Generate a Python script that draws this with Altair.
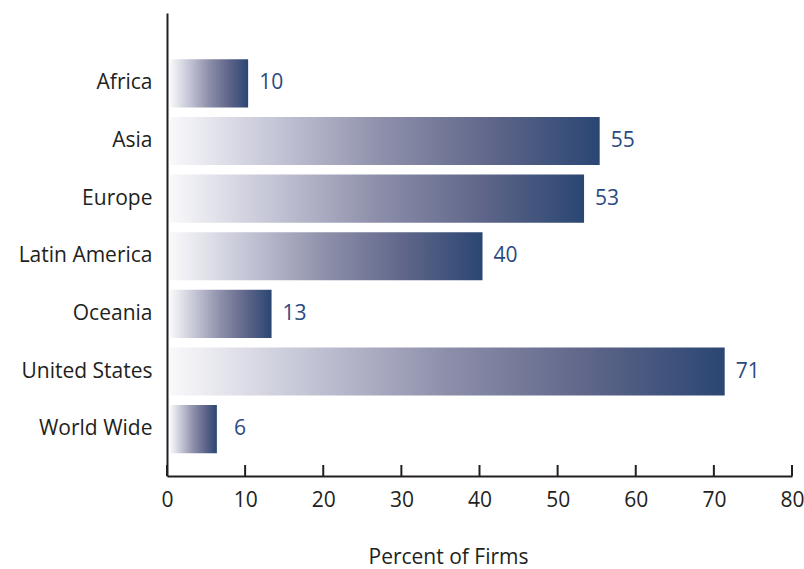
import altair as alt
import pandas as pd

# Share of firms by region
regions = ["Africa", "Asia", "Europe", "Latin America", "Oceania", "United States", "World Wide"]
percents = [10, 55, 53, 40, 13, 71, 6]
tick_values = [0, 10, 20, 30, 40, 50, 60, 70, 80]

bars_df = pd.DataFrame({"region": regions, "percent": percents})
ticks_df = pd.DataFrame({"tick": tick_values})

FONT = "Open Sans"
INK = "#231f20"
NAVY = "#2b4a80"
W, H = 625, 463

fade = alt.Gradient(
    gradient="linear",
    x1=0, x2=1, y1=0, y2=0,
    stops=[
        alt.GradientStop(color="#f9f9fb", offset=0),
        alt.GradientStop(color="#c3c4d5", offset=0.25),
        alt.GradientStop(color="#8d8faa", offset=0.5),
        alt.GradientStop(color="#5f6689", offset=0.75),
        alt.GradientStop(color="#2a4673", offset=1),
    ],
)

x_scale = alt.Scale(domain=[0, 80], nice=False)
y_scale = alt.Scale(paddingInner=0.165, paddingOuter=0.6, align=0.67)

bars = alt.Chart(bars_df).mark_bar(color=fade, x2Offset=3, xOffset=3).encode(
    x=alt.X(
        "percent:Q",
        scale=x_scale,
        axis=alt.Axis(
            values=tick_values,
            ticks=False,
            grid=False,
            labelFlush=False,
            domainColor=INK,
            domainWidth=2,
            labelFont=FONT,
            labelFontSize=21,
            labelColor=INK,
            labelPadding=13,
            title="Percent of Firms",
            titleFont=FONT,
            titleFontSize=21,
            titleFontWeight="normal",
            titleColor=INK,
            titlePadding=36,
            titleX=281,
        ),
    ),
    y=alt.Y(
        "region:N",
        sort=regions,
        scale=y_scale,
        axis=alt.Axis(
            title=None,
            ticks=False,
            domainColor=INK,
            domainWidth=2,
            labelFont=FONT,
            labelFontSize=21,
            labelColor=INK,
            labelPadding=15,
        ),
    ),
)

values = alt.Chart(bars_df).mark_text(
    font=FONT, fontSize=21, color=NAVY, align="center", baseline="middle", dx=26
).encode(
    x=alt.X("percent:Q", scale=x_scale),
    y=alt.Y("region:N", sort=regions, scale=y_scale),
    text=alt.Text("percent:Q"),
)

ticks = alt.Chart(ticks_df).mark_rule(color=INK, strokeWidth=2).encode(
    x=alt.X("tick:Q", scale=x_scale),
    y=alt.value(H - 11),
    y2=alt.value(H),
)

chart = (
    alt.layer(bars, values, ticks)
    .properties(
        width=W,
        height=H,
        background="white",
        autosize=alt.AutoSizeParams(type="none"),
        padding={"left": 167, "top": 13, "right": 12, "bottom": 93},
    )
    .configure_view(stroke=None)
)

chart.save("out.html", embed_options={"renderer": "svg", "actions": False})
